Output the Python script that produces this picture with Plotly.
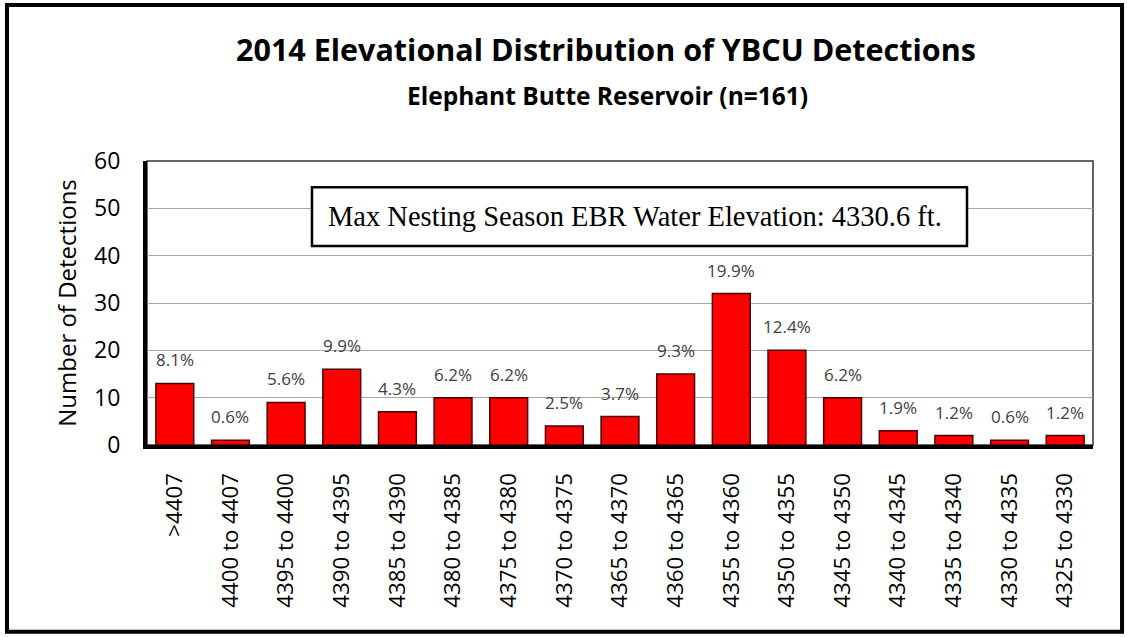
import plotly.graph_objects as go

# Paliers d'altitude (ft) et nombre de détections
categories = [
    ">4407", "4400 to 4407", "4395 to 4400", "4390 to 4395", "4385 to 4390",
    "4380 to 4385", "4375 to 4380", "4370 to 4375", "4365 to 4370",
    "4360 to 4365", "4355 to 4360", "4350 to 4355", "4345 to 4350",
    "4340 to 4345", "4335 to 4340", "4330 to 4335", "4325 to 4330",
]
detections = [13, 1, 9, 16, 7, 10, 10, 4, 6, 15, 32, 20, 10, 3, 2, 1, 2]
pct_labels = ["8.1%", "0.6%", "5.6%", "9.9%", "4.3%", "6.2%", "6.2%", "2.5%",
              "3.7%", "9.3%", "19.9%", "12.4%", "6.2%", "1.9%", "1.2%", "0.6%", "1.2%"]
y_ticks = [0, 10, 20, 30, 40, 50, 60]

FONT = "Open Sans"

fig = go.Figure()
fig.add_trace(go.Bar(
    x=categories,
    y=detections,
    marker=dict(color="#ff0000", line=dict(color="#4a0000", width=1.5)),
    width=0.68,
    hoverinfo="skip",
))

# Pourcentages au-dessus des barres
for cat, val, lab in zip(categories, detections, pct_labels):
    fig.add_annotation(
        x=cat, y=val, text=lab, showarrow=False,
        yanchor="bottom", yshift=10,
        font=dict(family=FONT, size=17, color="#404040"),
    )

# Titre et sous-titre
fig.add_annotation(
    xref="paper", yref="paper", x=0.485, y=1.393, yanchor="middle",
    text="<b>2014 Elevational Distribution of YBCU Detections</b>",
    showarrow=False, font=dict(family=FONT, size=30.5, color="black"),
)
fig.add_annotation(
    xref="paper", yref="paper", x=0.487, y=1.23, yanchor="middle",
    text="<b>Elephant Butte Reservoir (n=161)</b>",
    showarrow=False, font=dict(family=FONT, size=24.5, color="black"),
)

# Cadre extérieur
fig.add_shape(type="rect", xref="paper", yref="paper",
              x0=-0.148, x1=1.0307, y0=-0.658, y1=1.549,
              line=dict(color="black", width=4), layer="above")
# Bordure fine de la zone de tracé (haut / droite)
fig.add_shape(type="rect", xref="paper", yref="paper",
              x0=0, x1=1, y0=0, y1=1,
              line=dict(color="#333333", width=1.5), layer="below")
# Encadré niveau d'eau
fig.add_shape(type="rect", xref="paper", yref="paper",
              x0=0.1744, x1=0.8668, y0=0.7007, y1=0.908,
              line=dict(color="black", width=2.5), fillcolor="white", layer="above")
fig.add_annotation(
    xref="paper", yref="paper", x=0.516, y=0.804, yanchor="middle",
    text="Max Nesting Season EBR Water Elevation: 4330.6 ft.",
    showarrow=False,
    font=dict(family="Liberation Serif", size=28.5, color="black"),
)

fig.update_layout(
    width=1127, height=637,
    margin=dict(l=147, r=34, t=161, b=192),
    paper_bgcolor="white", plot_bgcolor="white",
    showlegend=False,
    bargap=0.32,
)
fig.update_xaxes(
    type="category",
    tickangle=-90,
    tickfont=dict(family=FONT, size=22.3, color="black"),
    showline=True, linecolor="black", linewidth=4,
    showgrid=False,
    ticklabelstandoff=15,
)
fig.update_yaxes(
    range=[0, 60],
    tickvals=y_ticks,
    tickfont=dict(family=FONT, size=23, color="black"),
    showline=True, linecolor="black", linewidth=4,
    gridcolor="#a6a6a6", gridwidth=1,
    zeroline=False,
    ticklabelstandoff=18,
    title=dict(text="Number of Detections",
               font=dict(family=FONT, size=24, color="black"), standoff=12),
)

fig.write_html("out.html", config={"displayModeBar": False},
               post_script="document.body.style.margin='0';")
